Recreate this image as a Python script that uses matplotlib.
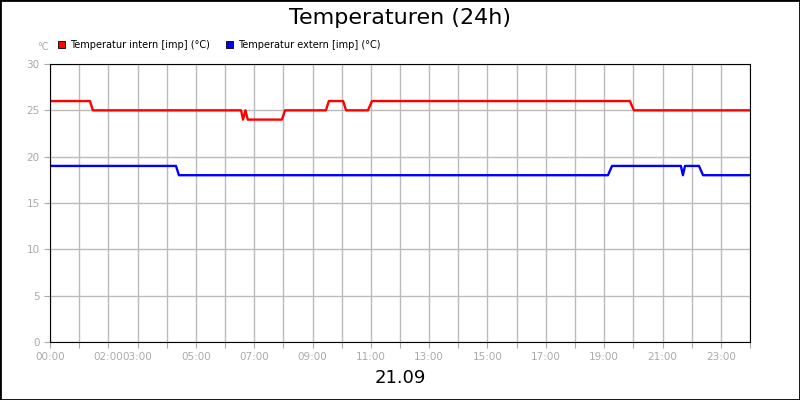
import matplotlib
matplotlib.use("Agg")
import matplotlib.pyplot as plt
from matplotlib.patches import Rectangle

t_int = [0, 1.37, 1.47, 6.55, 6.62, 6.70, 6.78, 7.95, 8.06, 9.46, 9.56, 10.05, 10.15, 10.9, 11.04, 19.88, 20.02, 24]
v_int = [26, 26, 25, 25, 24, 25, 24, 24, 25, 25, 26, 26, 25, 25, 26, 26, 25, 25]
t_ext = [0, 4.32, 4.42, 19.13, 19.27, 21.63, 21.70, 21.77, 22.25, 22.39, 24]
v_ext = [19, 19, 18, 18, 19, 19, 18, 19, 19, 18, 18]
tick_hours = [0, 2, 3, 5, 7, 9, 11, 13, 15, 17, 19, 21, 23]
yticks = [0, 5, 10, 15, 20, 25, 30]

fig = plt.figure(figsize=(8, 4), dpi=100)
fig.patches.append(Rectangle((0, 0), 1, 1, transform=fig.transFigure, fill=False, ec="black", lw=2))
ax = fig.add_axes([50/800, 58/400, 700/800, 278/400])
ax.plot(t_int, v_int, color="#ff0000", lw=1.7)
ax.plot(t_ext, v_ext, color="#0000ff", lw=1.7)
ax.set_xlim(0, 24)
ax.set_ylim(0, 30)
ax.set_xticks(range(0, 25))
ax.set_xticklabels(["%02d:00" % h if h in tick_hours else "" for h in range(25)])
ax.set_yticks(yticks)
ax.grid(True, color="#bbbbbb", lw=1)
ax.tick_params(colors="#aaaaaa", labelsize=7.5, length=4, labelcolor="#aaaaaa")
for s in ax.spines.values():
    s.set_color("black")
ax.set_axisbelow(True)
gray = "#aaaaaa"
fig.text(0.5, 0.955, "Temperaturen (24h)", ha="center", va="center", fontsize=16)
fig.text(0.5, 0.055, "21.09", ha="center", va="center", fontsize=13)
fig.text(37/800, 1-47/400, "°C", color=gray, fontsize=7, ha="left", va="center")
fig.patches.append(Rectangle((58/800, 1-48/400), 7/800, 7/400, transform=fig.transFigure, fc="#ff0000", ec="black", lw=0.6))
fig.text(70/800, 1-44.5/400, "Temperatur intern [imp] (°C)", fontsize=7, va="center")
fig.patches.append(Rectangle((226/800, 1-48/400), 7/800, 7/400, transform=fig.transFigure, fc="#0000ff", ec="black", lw=0.6))
fig.text(238/800, 1-44.5/400, "Temperatur extern [imp] (°C)", fontsize=7, va="center")
fig.savefig("out.png")
